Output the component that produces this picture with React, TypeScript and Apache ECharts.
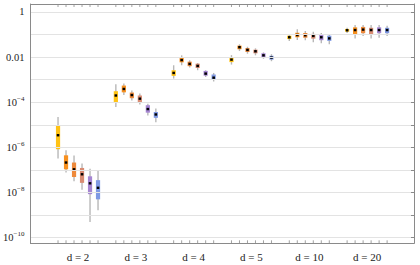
import React, { useEffect, useRef } from "react";
import * as echarts from "echarts";

// Dimensions (groups along the x axis)
const dims = ["2", "3", "4", "5", "10", "20"];

// y tick labels at even decades (exponent -> text)
const yLabelExponents = [0, -2, -4, -6, -8, -10];
const yLabelTexts = ["1", "0.01", "10^-4", "10^-6", "10^-8", "10^-10"];

// Box colours, one per method
const methodColors = ["#ffc214", "#f7901f", "#ee8a3c", "#d98b72", "#a585d2", "#7f99e4"];

// log10 values per method, per dimension: [whiskerLow, q1, median, q3, whiskerHigh]
const method1 = [
  [-6.49, -6.08, -5.46, -5.05, -4.65],
  [-4.21, -4.03, -3.7, -3.51, -3.2],
  [-2.95, -2.83, -2.7, -2.58, -2.36],
  [-2.33, -2.22, -2.11, -2.01, -1.91],
  [-1.28, -1.2, -1.12, -1.05, -0.99],
  [-0.93, -0.87, -0.81, -0.75, -0.7],
];
const method2 = [
  [-7.11, -6.97, -6.67, -6.35, -6.13],
  [-3.68, -3.56, -3.41, -3.26, -3.17],
  [-2.36, -2.23, -2.13, -2.02, -1.92],
  [-1.73, -1.65, -1.56, -1.49, -1.43],
  [-1.24, -1.12, -1.02, -0.92, -0.77],
  [-1.17, -1.02, -0.8, -0.68, -0.58],
];
const method3 = [
  [-7.5, -7.31, -6.97, -6.67, -6.36],
  [-3.92, -3.82, -3.68, -3.57, -3.48],
  [-2.46, -2.4, -2.3, -2.2, -2.14],
  [-1.85, -1.77, -1.68, -1.6, -1.54],
  [-1.25, -1.14, -1.03, -0.93, -0.84],
  [-1.06, -0.94, -0.78, -0.66, -0.58],
];
const method4 = [
  [-7.87, -7.57, -7.19, -6.91, -6.71],
  [-4.1, -4.0, -3.84, -3.7, -3.61],
  [-2.58, -2.48, -2.39, -2.29, -2.26],
  [-1.92, -1.83, -1.74, -1.67, -1.61],
  [-1.34, -1.18, -1.06, -0.97, -0.87],
  [-1.17, -0.99, -0.8, -0.7, -0.58],
];
const method5 = [
  [-9.3, -8.07, -7.59, -7.28, -6.94],
  [-4.59, -4.46, -4.3, -4.13, -4.06],
  [-2.88, -2.82, -2.73, -2.61, -2.58],
  [-2.07, -2.01, -1.92, -1.83, -1.79],
  [-1.39, -1.25, -1.12, -1.02, -0.93],
  [-1.14, -0.94, -0.8, -0.68, -0.58],
];
const method6 = [
  [-8.78, -8.3, -7.79, -7.45, -7.05],
  [-4.88, -4.69, -4.54, -4.43, -4.28],
  [-3.08, -3.0, -2.91, -2.77, -2.7],
  [-2.18, -2.11, -2.02, -1.94, -1.87],
  [-1.43, -1.28, -1.17, -1.05, -0.99],
  [-1.06, -0.94, -0.8, -0.7, -0.61],
];
const methods = [method1, method2, method3, method4, method5, method6];

const FONT = "'Liberation Serif', 'Times New Roman', serif";
const FRAME = "#8a8a8a";

export default function App() {
  const ref = useRef<HTMLDivElement>(null);
  useEffect(() => {
    if (!ref.current) return;
    const chart = echarts.init(ref.current, null, { renderer: "svg" });

    const series = methods.map((m, k) => ({
      type: "custom",
      name: "method " + (k + 1),
      data: m.map((v, g) => [g, k, ...v]),
      encode: { x: 0, y: [2, 3, 4, 5, 6] },
      renderItem: (params: any, api: any) => {
        const g = api.value(0);
        const idx = api.value(1);
        const lo = api.value(2), q1 = api.value(3), med = api.value(4), q3 = api.value(5), hi = api.value(6);
        const cx = api.coord([g, med])[0] + (idx - 2.5) * 8;
        const yLo = api.coord([g, lo])[1];
        const yQ1 = api.coord([g, q1])[1];
        const yMed = api.coord([g, med])[1];
        const yQ3 = api.coord([g, q3])[1];
        const yHi = api.coord([g, hi])[1];
        const cs = params.coordSys;
        return {
          type: "group",
          children: [
            { type: "line", shape: { x1: cx, y1: cs.y, x2: cx, y2: cs.y + 3 }, style: { stroke: FRAME, lineWidth: 0.8 } },
            { type: "line", shape: { x1: cx, y1: cs.y + cs.height, x2: cx, y2: cs.y + cs.height - 3 }, style: { stroke: FRAME, lineWidth: 0.8 } },
            { type: "line", shape: { x1: cx, y1: yHi, x2: cx, y2: yLo }, style: { stroke: "#b8b8b8", lineWidth: 1.4 } },
            { type: "rect", shape: { x: cx - 2.1, y: yQ3, width: 4.2, height: yQ1 - yQ3 }, style: { fill: methodColors[idx] } },
            { type: "rect", shape: { x: cx - 1.3, y: yMed - 1.2, width: 2.6, height: 2.4 }, style: { fill: "#000" } },
          ],
        };
      },
    }));

    const frameLine = { show: true, onZero: false, lineStyle: { color: FRAME, width: 1 } };

    chart.setOption({
      animation: false,
      grid: { left: 27, right: 6, top: 4, bottom: 21.7, containLabel: false },
      xAxis: [
        {
          type: "value",
          min: -0.823,
          max: 5.811,
          z: 3,
          axisLine: frameLine,
          axisTick: { show: false },
          splitLine: { show: false },
          axisLabel: {
            margin: 8,
            fontFamily: FONT,
            fontSize: 11,
            color: "#222",
            showMinLabel: false,
            showMaxLabel: false,
            formatter: (v: number) => (Number.isInteger(v) && dims[v] !== undefined ? "d = " + dims[v] : ""),
          },
        },
        {
          type: "value",
          position: "top",
          min: -0.823,
          max: 5.811,
          z: 3,
          axisLine: frameLine,
          axisTick: { show: false },
          axisLabel: { show: false },
          splitLine: { show: false },
        },
      ],
      yAxis: [
        {
          type: "value",
          min: -10.248,
          max: 0.354,
          splitNumber: 10,
          z: 3,
          axisLine: frameLine,
          axisTick: { show: false },
          splitLine: { show: true, lineStyle: { color: "#e3e3e3", width: 1 } },
          axisLabel: {
            margin: 6,
            fontFamily: FONT,
            fontSize: 10.5,
            color: "#222",
            formatter: (v: number) => {
              const i = yLabelExponents.indexOf(Math.round(v * 1000) / 1000);
              if (i < 0) return "";
              const t = yLabelTexts[i];
              if (t.indexOf("^") < 0) return "{b|" + t + "}";
              const [base, exp] = t.split("^");
              return "{b|" + base + "}{s|" + exp.replace("-", "\u2212") + "}";
            },
            rich: {
              b: { fontFamily: FONT, fontSize: 10.5, color: "#222", lineHeight: 14 },
              s: { fontFamily: FONT, fontSize: 7, color: "#222", verticalAlign: "top", lineHeight: 8 },
            },
          },
        },
        {
          type: "value",
          position: "right",
          min: -10.248,
          max: 0.354,
          splitNumber: 10,
          z: 3,
          axisLine: frameLine,
          axisTick: { show: true, inside: true, length: 3, lineStyle: { color: FRAME } },
          axisLabel: { show: false },
          splitLine: { show: false },
        },
      ],
      series,
    });
    return () => chart.dispose();
  }, []);
  return <div ref={ref} style={{ position: "absolute", left: 0, top: 0, width: 420, height: 265 }} />;
}
